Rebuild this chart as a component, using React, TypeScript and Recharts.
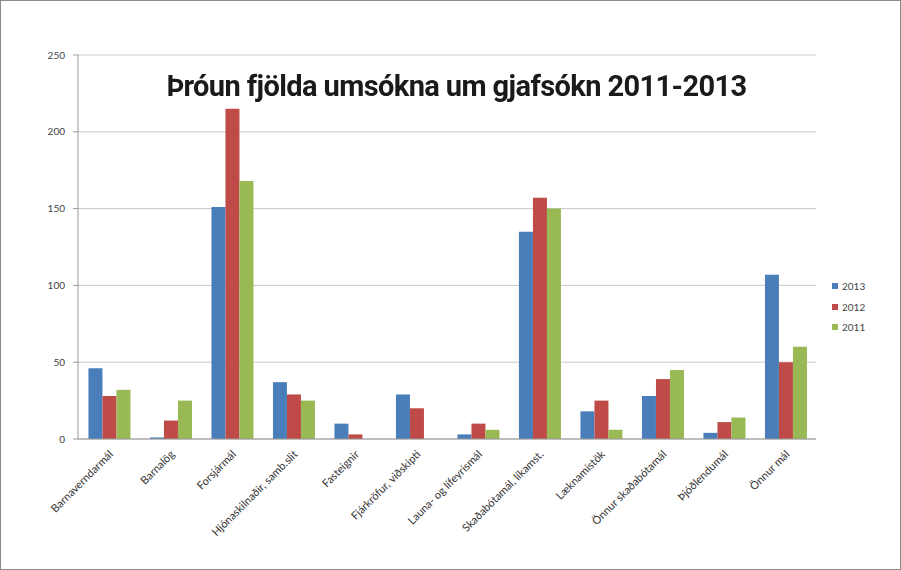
import React from 'react';
import { BarChart, Bar, XAxis, YAxis, CartesianGrid } from 'recharts';

// Flokkar mála
const categories = [
  'Barnaverndarmál',
  'Barnalög',
  'Forsjármál',
  'Hjónaskilnaðir, samb.slit',
  'Fasteignir',
  'Fjárkröfur, viðskipti',
  'Launa- og lífeyrismál',
  'Skaðabótamál, líkamst.',
  'Læknamistök',
  'Önnur skaðabótamál',
  'Þjóðlendumál',
  'Önnur mál',
];

const values2013 = [46, 1, 151, 37, 10, 29, 3, 135, 18, 28, 4, 107];
const values2012 = [28, 12, 215, 29, 3, 20, 10, 157, 25, 39, 11, 50];
const values2011 = [32, 25, 168, 25, 0, 0, 6, 150, 6, 45, 14, 60];

const yTicks = [0, 50, 100, 150, 200, 250];

const series = [
  { key: 'y2013', name: '2013', color: '#4A7EBB' },
  { key: 'y2012', name: '2012', color: '#BE4B48' },
  { key: 'y2011', name: '2011', color: '#98B954' },
];

const data = categories.map((name, i) => ({
  name,
  y2013: values2013[i],
  y2012: values2012[i],
  y2011: values2011[i],
}));

const labelFont = 'Lato, "Open Sans", sans-serif';

function AngledTick({ x, y, payload }: any) {
  return (
    <g transform={`translate(${x + 5},${y + 8})`}>
      <text
        transform="rotate(-45)"
        textAnchor="end"
        fontSize={11}
        fill="#333"
        fontFamily={labelFont}
      >
        {payload.value}
      </text>
    </g>
  );
}

export default function App() {
  return (
    <div
      style={{
        position: 'fixed',
        left: 0,
        top: 0,
        width: 901,
        height: 570,
        background: '#fff',
        boxSizing: 'border-box',
        border: '1px solid #8a8a8a',
      }}
    >
      <BarChart
        width={899}
        height={568}
        data={data}
        margin={{ top: 54, right: 84, left: 0, bottom: 0 }}
        barCategoryGap="17%"
        barGap={0}
      >
        <CartesianGrid vertical={false} stroke="#c8c8c8" />
        <XAxis
          dataKey="name"
          interval={0}
          height={130}
          tick={<AngledTick />}
          tickLine={false}
          axisLine={{ stroke: '#999' }}
        />
        <YAxis
          width={77}
          domain={[0, 250]}
          ticks={yTicks}
          tick={{ fontSize: 10, fill: '#444', fontFamily: labelFont }}
          tickLine={{ stroke: '#999' }}
          tickSize={5}
          tickMargin={8}
          axisLine={{ stroke: '#999' }}
        />
        {series.map((s) => (
          <Bar key={s.key} dataKey={s.key} name={s.name} fill={s.color} isAnimationActive={false} />
        ))}
      </BarChart>
      <div
        style={{
          position: 'absolute',
          left: 0,
          width: 901,
          top: 68,
          textAlign: 'center',
          fontFamily: 'Roboto, sans-serif',
          fontWeight: 700,
          fontSize: 29,
          letterSpacing: -0.6,
          color: '#1a1a1a',
          paddingLeft: 10,
          boxSizing: 'border-box',
        }}
      >
        Þróun fjölda umsókna um gjafsókn 2011-2013
      </div>
      <div
        style={{
          position: 'absolute',
          left: 831,
          top: 275,
          fontFamily: labelFont,
          fontSize: 10,
          color: '#444',
        }}
      >
        {series.map((s) => (
          <div key={s.key} style={{ display: 'flex', alignItems: 'center', height: 20.5 }}>
            <span style={{ width: 6, height: 6, background: s.color, marginRight: 4 }} />
            {s.name}
          </div>
        ))}
      </div>
    </div>
  );
}
